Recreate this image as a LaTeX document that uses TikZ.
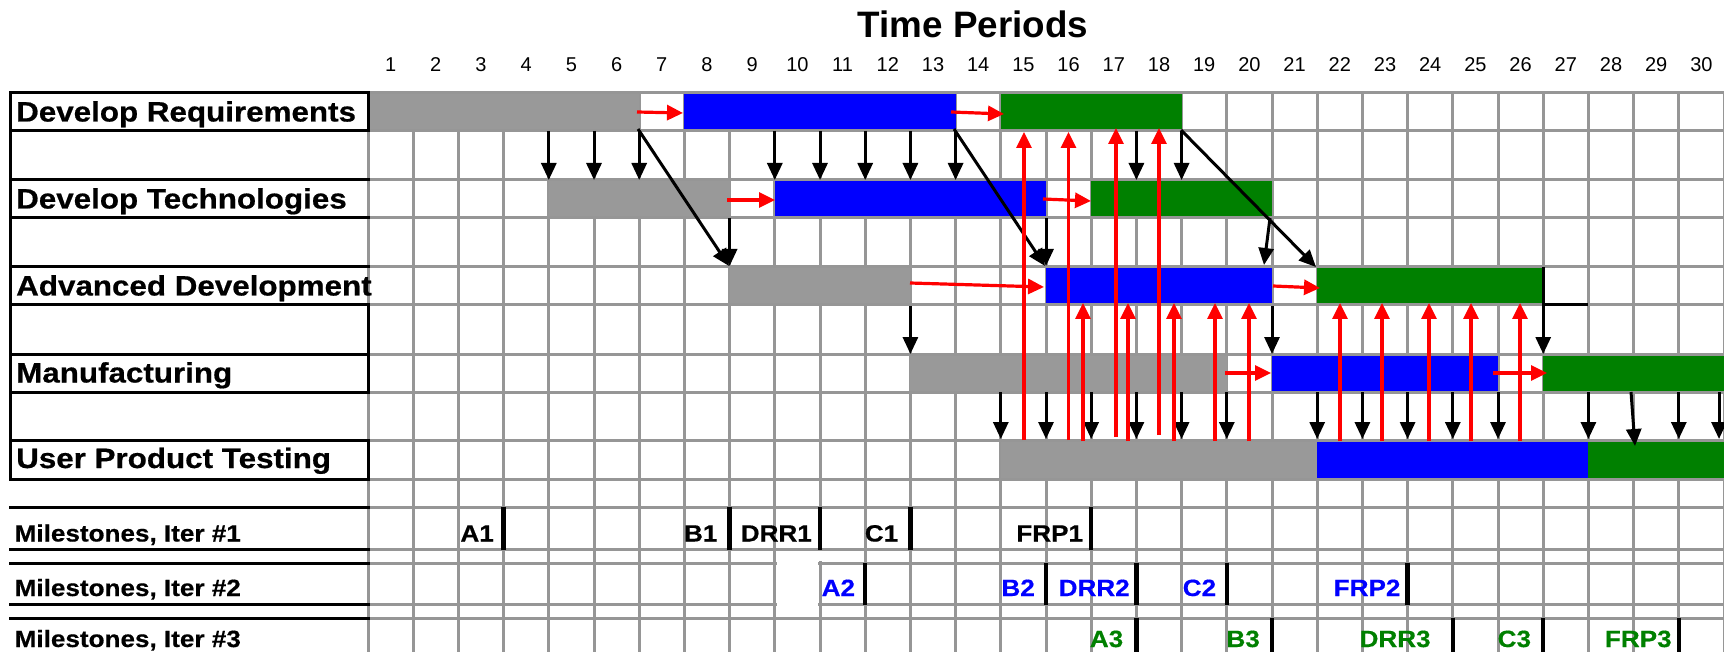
\documentclass[tikz,border=0pt]{standalone}
\usepackage{fontspec}
\setmainfont{Liberation Sans}
\newfontfamily\tasklbl[FakeStretch=1.12,FakeBold=0.6]{Liberation Sans}
\newfontfamily\mslbl[FakeStretch=1.11,FakeBold=0.5]{Liberation Sans}
\usetikzlibrary{arrows.meta}
\definecolor{gridgray}{RGB}{150,150,150}
\definecolor{bargray}{RGB}{153,153,153}
\definecolor{barblue}{RGB}{0,0,255}
\definecolor{bargreen}{RGB}{0,128,0}
\definecolor{arrred}{RGB}{255,0,0}
\newcommand{\cxb}[1]{368+45.2*(#1)}
\newcommand{\gbar}[5]{\fill[#1] ({\cxb{#2}},{#4+1.5}) rectangle ({\cxb{#3}},{#5-1.5});}
\begin{document}
\begin{tikzpicture}[x=1pt,y=-1pt,
  gridline/.style={draw=gridgray,line width=3pt},
  frameline/.style={draw=black,line width=3pt,line cap=rect},
  msbar/.style={draw=black,line width=4.5pt},
  blkarrow/.style={draw=black,line width=3pt,-{Triangle[width=15pt,length=17pt]}},
  redarrow/.style={draw=arrred,line width=3.2pt,-{Triangle[width=15pt,length=16pt]}},
  titletext/.style={font=\bfseries\fontsize{36.8}{40}\selectfont,anchor=base,inner sep=0pt},
  numtext/.style={font=\fontsize{20}{22}\selectfont,anchor=base,inner sep=0pt},
  tasktext/.style={font=\tasklbl\bfseries\fontsize{28}{30}\selectfont,anchor=base west,inner sep=0pt},
  mstext/.style={font=\mslbl\bfseries\fontsize{23.5}{26}\selectfont,anchor=base west,inner sep=0pt},
  mktext/.style={font=\mslbl\bfseries\fontsize{23.5}{26}\selectfont,anchor=base east,inner sep=0pt}
]
\useasboundingbox (0,0) rectangle (1724,652);
\clip (0,0) rectangle (1724,652);
\fill[white] (0,0) rectangle (1724,652);

% grid
\foreach \k in {0,...,30} \draw[gridline] ({\cxb{\k}},93) -- ({\cxb{\k}},652);
\foreach \y in {93,131,180,218,267,305,354,392,440,479,507,549,563,604,618}
  \draw[gridline] (368,\y) -- (1724,\y);
\fill[white] (776.6,550.6) rectangle (818.3,606);
\fill[white] (818,550.6) rectangle (822,561.4);

% bars
\gbar{bargray}{0}{6}{93}{131}
\gbar{barblue}{7}{13}{93}{131}
\gbar{bargreen}{14}{18}{93}{131}
\gbar{bargray}{4}{8}{180}{218}
\gbar{barblue}{9}{15}{180}{218}
\gbar{bargreen}{16}{20}{180}{218}
\gbar{bargray}{8}{12}{267}{305}
\gbar{barblue}{15}{20}{267}{305}
\gbar{bargreen}{21}{26}{267}{305}
\gbar{bargray}{12}{19}{354}{392}
\gbar{barblue}{20}{25}{354}{392}
\gbar{bargreen}{26}{30}{354}{392}
\gbar{bargray}{14}{21}{440}{479}
\gbar{barblue}{21}{27}{440}{479}
\gbar{bargreen}{27}{30}{440}{479}

% label column frame
\draw[frameline] (10,93) -- (10,479);
\foreach \y in {93,131,180,218,267,305,354,392,440,479,507,549,563,604,618}
  \draw[frameline] (10,\y) -- (368,\y);
\draw[frameline] (368,93) -- (368,131);
\draw[frameline] (368,305) -- (368,392);
\draw[frameline] (368,440) -- (368,479);

% texts
\node[titletext] (title) at (973,37.5) {Time Periods};
\foreach \k in {1,...,30} \node[numtext] (n\k) at ({\cxb{\k-0.5}},72) {\k};
\node[tasktext] (t1) at (16,121.5) {Develop Requirements};
\node[tasktext] (t2) at (16,208.5) {Develop Technologies};
\node[tasktext] (t3) at (16,295.5) {Advanced Development};
\node[tasktext] (t4) at (16,382.5) {Manufacturing};
\node[tasktext] (t5) at (16,468) {User Product Testing};
\node[mstext] (m1) at (14.5,541.5) {Milestones, Iter \#1};
\node[mstext] (m2) at (14.5,596) {Milestones, Iter \#2};
\node[mstext] (m3) at (14.5,647) {Milestones, Iter \#3};

% milestone markers, iteration 1
\foreach \k in {3,8,10,12,16} \draw[msbar] ({\cxb{\k}},507) -- ({\cxb{\k}},550);
\node[mktext] (a1) at ({\cxb{3}-9.6},541.5) {A1};
\node[mktext] (b1) at ({\cxb{8}-12},541.5) {B1};
\node[mktext] (d1) at ({\cxb{10}-8},541.5) {DRR1};
\node[mktext] (c1) at ({\cxb{12}-12},541.5) {C1};
\node[mktext] (f1) at ({\cxb{16}-8},541.5) {FRP1};
% iteration 2
\foreach \k in {11,15,17,19,23} \draw[msbar] ({\cxb{\k}},563) -- ({\cxb{\k}},605);
\node[mktext,text=barblue] (a2) at ({\cxb{11}-10},596) {A2};
\node[mktext,text=barblue] (b2) at ({\cxb{15}-11},596) {B2};
\node[mktext,text=barblue] (d2) at ({\cxb{17}-6.5},596) {DRR2};
\node[mktext,text=barblue] (c2) at ({\cxb{19}-10.5},596) {C2};
\node[mktext,text=barblue] (f2) at ({\cxb{23}-7},596) {FRP2};
% iteration 3
\foreach \k in {17,20,24,26,29} \draw[msbar] ({\cxb{\k}},618) -- ({\cxb{\k}},652);
\node[mktext,text=bargreen] (a3) at ({\cxb{17}-13},647) {A3};
\node[mktext,text=bargreen] (b3) at ({\cxb{20}-12},647) {B3};
\node[mktext,text=bargreen] (d3) at ({\cxb{24}-22},647) {DRR3};
\node[mktext,text=bargreen] (c3) at ({\cxb{26}-12},647) {C3};
\node[mktext,text=bargreen] (f3) at ({\cxb{29}-7},647) {FRP3};

% black arrows
\foreach \k in {4,5,6,9,10,11,12,13,17,18}
  \draw[blkarrow] ({\cxb{\k}},131) -- ({\cxb{\k}},180);
\draw[blkarrow] ({\cxb{8}},218) -- ({\cxb{8}},266);
\draw[blkarrow] ({\cxb{15}},218) -- ({\cxb{15}},266);
\draw[blkarrow] (1270,218) -- (1264,265);
\draw[blkarrow] (638,129) -- (729,266);
\draw[blkarrow] (954,129) -- (1045,266);
\draw[blkarrow] (1181,130) -- (1316,267);
\foreach \k in {12,20,26}
  \draw[blkarrow] ({\cxb{\k}},306) -- ({\cxb{\k}},354);
\draw[black,line width=3pt] ({\cxb{26}},267) -- ({\cxb{26}},305) -- ({\cxb{27}},305);
\foreach \k in {14,15,16,17,18,19,21,22,23,24,25,27,29}
  \draw[blkarrow] ({\cxb{\k}},392) -- ({\cxb{\k}},439);
\draw[blkarrow] (1631,392) -- (1635,446);
\draw[blkarrow] (1719,392) -- (1719,439);

% red arrows
\draw[redarrow] (637,112) -- (683,113);
\draw[redarrow] (951,112) -- (1004,114);
\draw[redarrow] (727,200) -- (775,200);
\draw[redarrow] (1043,199) -- (1091,201);
\draw[redarrow] (910,283) -- (1044,287);
\draw[redarrow] (1273,286) -- (1320,288);
\draw[redarrow] (1225,373) -- (1271,373);
\draw[redarrow] (1493,373) -- (1547,373);
\draw[redarrow] (1024,440) -- (1024,132);
\draw[redarrow] (1068.5,440) -- (1068.5,132);
\draw[redarrow] (1116,437) -- (1116,128);
\draw[redarrow] (1159,435) -- (1159,128);
\foreach \x in {1083,1128,1174,1215,1249,1340,1382,1429,1471,1520}
  \draw[redarrow] (\x,441) -- (\x,303);
\end{tikzpicture}
\end{document}
